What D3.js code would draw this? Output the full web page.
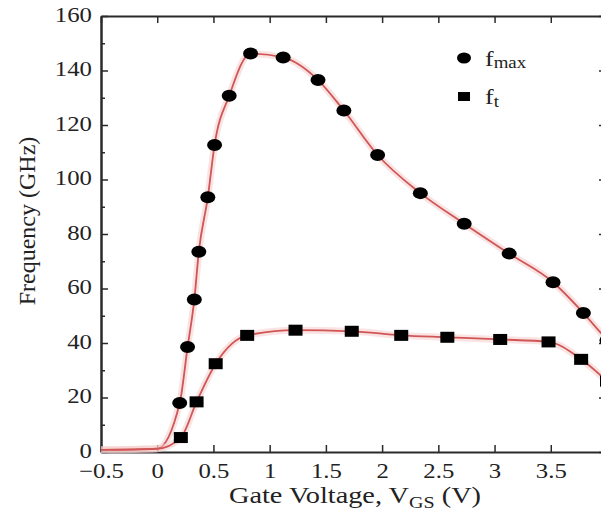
<!DOCTYPE html>
<html>
<head>
<meta charset="utf-8">
<script src="https://cdn.jsdelivr.net/npm/d3@7"></script>
<style>
  body { margin: 0; background: #fff; }
  text { font-family: "Liberation Serif", "DejaVu Serif", serif; fill: #222; }
</style>
</head>
<body>
<div id="chart"></div>
<script>
// gate voltage (V) and frequencies (GHz)
let vgsMax = [-0.5, 0, 0.2, 0.27, 0.33, 0.37, 0.45, 0.51, 0.64, 0.83, 1.12, 1.43, 1.66, 1.96, 2.34, 2.73, 3.13, 3.52, 3.79, 4.0];
let fmax = [0.8, 1.2, 18, 38.5, 56, 73.5, 93.5, 112.7, 130.7, 146.2, 144.8, 136.5, 125.3, 109, 95, 83.8, 72.8, 62.3, 51, 41];

let vgsT = [-0.5, 0, 0.21, 0.35, 0.52, 0.8, 1.23, 1.73, 2.17, 2.58, 3.05, 3.48, 3.77, 4.0];
let ft = [0.8, 1.2, 5.3, 18.4, 32.4, 42.8, 44.7, 44.3, 42.8, 42.1, 41.3, 40.4, 34, 26];

let xTicks = [-0.5, 0, 0.5, 1, 1.5, 2, 2.5, 3, 3.5, 4];
let xTickLabels = ['\u22120.5', '0', '0.5', '1', '1.5', '2', '2.5', '3', '3.5', '4'];
let yTicks = [0, 20, 40, 60, 80, 100, 120, 140, 160];
let yMinor = [10, 30, 50, 70, 90, 110, 130, 150];

(function () {
  let plotLeft = 101, plotRight = 607, plotTop = 16, plotBottom = 452;
  // the source figure is a bit stretched sideways, so the text is too
  let stretch = 1.18;

  let svg = d3.select('#chart').append('svg')
    .attr('width', 601)
    .attr('height', 518);

  let x = d3.scaleLinear().domain([-0.5, 4]).range([plotLeft, plotRight]);
  let y = d3.scaleLinear().domain([0, 160]).range([plotBottom, plotTop]);

  let axisColor = '#2a2a2a';

  // bottom axis, ticks pointing inward
  let gx = svg.append('g')
    .attr('transform', `translate(0, ${plotBottom})`)
    .call(d3.axisBottom(x).tickValues(xTicks).tickSizeInner(-7).tickSizeOuter(0)
      .tickFormat((d, i) => xTickLabels[i]));
  gx.selectAll('text')
    .attr('dy', 0)
    .attr('y', 0)
    .attr('transform', `translate(0, 26) scale(${stretch}, 1)`)
    .style('font-size', '21px');

  // top axis, ticks only
  svg.append('g')
    .attr('transform', `translate(0, ${plotTop})`)
    .call(d3.axisTop(x).tickValues(xTicks).tickSizeInner(-7).tickSizeOuter(0).tickFormat(''));

  // left axis
  let gy = svg.append('g')
    .attr('transform', `translate(${plotLeft}, 0)`)
    .call(d3.axisLeft(y).tickValues(yTicks).tickSizeInner(-7).tickSizeOuter(0));
  gy.selectAll('text')
    .attr('x', 0)
    .attr('dy', '0.3em')
    .attr('transform', `translate(-9, -1) scale(${stretch}, 1)`)
    .style('font-size', '21px');

  svg.append('g')
    .attr('transform', `translate(${plotLeft}, 0)`)
    .call(d3.axisLeft(y).tickValues(yMinor).tickSizeInner(-4).tickSizeOuter(0).tickFormat(''));

  // right axis
  svg.append('g')
    .attr('transform', `translate(${plotRight}, 0)`)
    .call(d3.axisRight(y).tickValues(yTicks).tickSizeInner(-8).tickSizeOuter(0).tickFormat(''));

  svg.selectAll('.domain').attr('stroke', axisColor).attr('stroke-width', 2);
  svg.selectAll('.tick line').attr('stroke', axisColor).attr('stroke-width', 1.5);

  let line = d3.line()
    .x((d) => x(d[0]))
    .y((d) => y(d[1]))
    .curve(d3.curveMonotoneX);

  let seriesMax = vgsMax.map((v, i) => [v, fmax[i]]);
  let seriesT = vgsT.map((v, i) => [v, ft[i]]);

  [seriesMax, seriesT].forEach((s) => {
    svg.append('path')
      .datum(s)
      .attr('fill', 'none')
      .attr('stroke', '#f6cccc')
      .attr('stroke-opacity', 0.55)
      .attr('stroke-width', 7)
      .attr('d', line);
    svg.append('path')
      .datum(s)
      .attr('fill', 'none')
      .attr('stroke', '#d05555')
      .attr('stroke-width', 1.8)
      .attr('d', line);
  });

  // markers (the flat part near 0 V has none)
  svg.append('g')
    .selectAll('ellipse')
    .data(seriesMax.filter((d) => d[0] > 0.1))
    .enter()
    .append('ellipse')
    .attr('cx', (d) => x(d[0]))
    .attr('cy', (d) => y(d[1]))
    .attr('rx', 7.5)
    .attr('ry', 6)
    .attr('fill', '#000');

  svg.append('g')
    .selectAll('rect')
    .data(seriesT.filter((d) => d[0] > 0.1))
    .enter()
    .append('rect')
    .attr('x', (d) => x(d[0]) - 7)
    .attr('y', (d) => y(d[1]) - 5.5)
    .attr('width', 14)
    .attr('height', 11)
    .attr('fill', '#000');

  // legend
  let legend = svg.append('g');
  legend.append('ellipse').attr('cx', 464).attr('cy', 58).attr('rx', 7).attr('ry', 5.5).attr('fill', '#000');
  legend.append('rect').attr('x', 458).attr('y', 92).attr('width', 12).attr('height', 9).attr('fill', '#000');
  let t1 = legend.append('text')
    .attr('transform', `translate(485, 66) scale(${stretch}, 1)`)
    .style('font-size', '22px');
  t1.append('tspan').text('f');
  t1.append('tspan').attr('dy', 2).style('font-size', '16px').text('max');
  let t2 = legend.append('text')
    .attr('transform', `translate(485, 104) scale(${stretch}, 1)`)
    .style('font-size', '22px');
  t2.append('tspan').text('f');
  t2.append('tspan').attr('dy', 3).style('font-size', '16px').text('t');

  // axis titles
  let xt = svg.append('text')
    .attr('transform', `translate(355, 503) scale(${stretch}, 1)`)
    .attr('text-anchor', 'middle')
    .style('font-size', '24px');
  xt.append('tspan').text('Gate Voltage, V');
  xt.append('tspan').attr('dy', 5).style('font-size', '17px').text('GS');
  xt.append('tspan').attr('dy', -5).text(' (V)');

  svg.append('text')
    .attr('transform', 'translate(35, 221) rotate(-90)')
    .attr('text-anchor', 'middle')
    .style('font-size', '24px')
    .text('Frequency (GHz)');
})();
</script>
</body>
</html>
